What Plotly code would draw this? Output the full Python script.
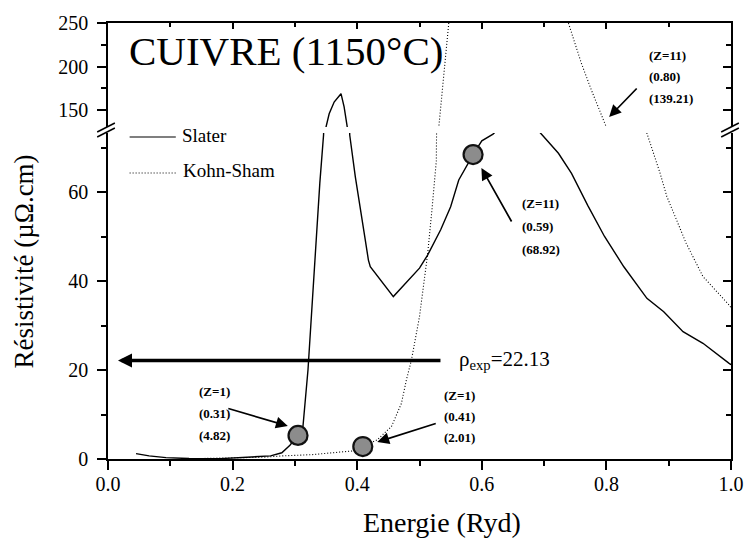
import plotly.graph_objects as go

# ---------------- data ----------------
slater_x = [0.045, 0.066, 0.093, 0.13, 0.18, 0.233, 0.261, 0.279, 0.292, 0.305, 0.313,
            0.321, 0.33, 0.34, 0.346, 0.35, 0.355, 0.363, 0.374, 0.379, 0.384, 0.388,
            0.397, 0.413, 0.418, 0.421, 0.458, 0.50, 0.513, 0.534, 0.55, 0.563, 0.586,
            0.60, 0.618, 0.64, 0.67, 0.697, 0.723, 0.744, 0.77, 0.797, 0.828, 0.865,
            0.892, 0.923, 0.955, 0.997, 1.0]
slater_y = [1.2, 0.7, 0.3, 0.1, 0.08, 0.4, 0.7, 1.4, 3.1, 5.3, 7.4,
            20, 40, 62, 72.8, 131, 146, 159.5, 169, 154, 131, 72.8,
            63.4, 49.2, 44.7, 43.2, 36.5, 42.9, 45.8, 51.5, 56.7, 62.7, 68.4,
            71.5, 73.0, 76, 77, 72.8, 68.7, 64.2, 57, 50.0, 43.2, 36.1,
            33.1, 28.6, 26.0, 21.5, 21.2]

ks_x = [0.145, 0.2, 0.25, 0.28, 0.33, 0.36, 0.392, 0.409, 0.432, 0.455, 0.471, 0.479,
        0.487, 0.50, 0.513, 0.52, 0.527, 0.531, 0.539, 0.547, 0.555, 0.735, 0.739,
        0.76, 0.776, 0.792, 0.80, 0.83, 0.865, 0.886, 0.897, 0.928, 0.955, 0.997, 1.0]
ks_y = [0.1, 0.2, 0.4, 0.7, 1.0, 1.4, 1.8, 2.8, 4.3, 7.3, 12.5, 17.8,
        22.2, 32, 46, 56, 67, 131, 190, 250, 300, 300, 250,
        203.5, 173, 144.3, 130.5, 100, 73.2, 64.3, 59, 48.5, 41, 34.6, 34]

# highlighted points (lower panel) and (upper panel)
pts_low_x = [0.305, 0.409, 0.586]
pts_low_y = [5.3, 2.8, 68.4]
pts_up_x = [0.793]
pts_up_y = [130.5]

labels_low = [["(Z=1)", "(0.31)", "(4.82)"],
              ["(Z=1)", "(0.41)", "(2.01)"],
              ["(Z=11)", "(0.59)", "(68.92)"]]
labels_up = [["(Z=11)", "(0.80)", "(139.21)"]]

rho_exp = 22.13
x_ticks = [0.0, 0.2, 0.4, 0.6, 0.8, 1.0]
y_low_ticks = [0, 20, 40, 60]
y_up_ticks = [150, 200, 250]

# ---------------- layout geometry (page pixels) ----------------
W, H = 756, 540
PX0, PY0 = 108, 459          # plot origin
PW, PH = 634, 436
L = PX0
T = PY0 - PH
R = W - L - PW
B = H - T - PH

def px(xp):
    return (xp - PX0) / PW

def py(yp):
    return (PY0 - yp) / PH

LOW_TOP = py(133)
UP_BOT = py(127)
LOW_RANGE = [0, (PY0 - 133) / 4.45]
UP_RANGE = [250 - (127 - 23) / 0.873, 250]

FONT = "'Liberation Serif', 'Times New Roman', 'DejaVu Serif', serif"

fig = go.Figure()

for xa, ya in (("x", "y"), ("x2", "y2")):
    fig.add_trace(go.Scatter(x=slater_x, y=slater_y, mode="lines", xaxis=xa, yaxis=ya,
                             line=dict(color="black", width=1.4), showlegend=False,
                             hoverinfo="skip"))
    fig.add_trace(go.Scatter(x=ks_x, y=ks_y, mode="lines", xaxis=xa, yaxis=ya,
                             line=dict(color="black", width=1.1, dash="1px,2px"),
                             showlegend=False, hoverinfo="skip"))

mk = dict(size=19, color="#8c8c8c", line=dict(color="#111111", width=2.2))
fig.add_trace(go.Scatter(x=pts_low_x, y=pts_low_y, mode="markers", marker=mk,
                         xaxis="x", yaxis="y", cliponaxis=False, showlegend=False))
fig.add_trace(go.Scatter(x=pts_up_x, y=pts_up_y, mode="markers", marker=mk,
                         xaxis="x2", yaxis="y2", cliponaxis=False, showlegend=False))
# dummy traces to materialise the mirrored (right-hand) axes
fig.add_trace(go.Scatter(x=[None], y=[None], xaxis="x", yaxis="y3", showlegend=False))
fig.add_trace(go.Scatter(x=[None], y=[None], xaxis="x2", yaxis="y4", showlegend=False))

tickfont = dict(family=FONT, size=20, color="black")
common = dict(showline=True, linecolor="black", linewidth=1.5, showgrid=False,
              zeroline=False, tickcolor="black", tickwidth=1.5, tickfont=tickfont)

fig.update_layout(
    width=W, height=H, margin=dict(l=L, r=R, t=T, b=B),
    paper_bgcolor="white", plot_bgcolor="white", showlegend=False,
    font=dict(family=FONT, color="black"),
    xaxis=dict(domain=[0, 1], range=[0, 1], anchor="y", side="bottom",
               ticks="outside", ticklen=9, tickvals=x_ticks, tickformat=".1f",
               ticklabelstandoff=-3,
               minor=dict(dtick=0.1, tick0=0, ticks="outside", ticklen=5,
                          tickcolor="black", tickwidth=1.5), **common),
    xaxis2=dict(domain=[0, 1], range=[0, 1], anchor="y2", side="top", matches="x",
                ticks="inside", ticklen=6, dtick=0.2, tick0=0, showticklabels=False,
                minor=dict(dtick=0.1, tick0=0, ticks="inside", ticklen=4,
                           tickcolor="black", tickwidth=1.5), **common),
    yaxis=dict(domain=[0, LOW_TOP], range=LOW_RANGE, anchor="x", side="left",
               ticks="outside", ticklen=9, tickvals=y_low_ticks, ticklabelstandoff=5,
               minor=dict(dtick=10, tick0=0, ticks="outside", ticklen=5,
                          tickcolor="black", tickwidth=1.5), **common),
    yaxis2=dict(domain=[UP_BOT, 1], range=UP_RANGE, anchor="x2", side="left",
                ticks="outside", ticklen=9, tickvals=y_up_ticks, ticklabelstandoff=5,
                minor=dict(dtick=25, tick0=0, ticks="outside", ticklen=5,
                           tickcolor="black", tickwidth=1.5), **common),
    yaxis3=dict(overlaying="y", range=LOW_RANGE, anchor="x", side="right",
                ticks="inside", ticklen=8, dtick=20, tick0=0, showticklabels=False,
                minor=dict(dtick=10, tick0=0, ticks="inside", ticklen=5,
                           tickcolor="black", tickwidth=1.5), **common),
    yaxis4=dict(overlaying="y2", range=UP_RANGE, anchor="x2", side="right",
                ticks="inside", ticklen=8, dtick=50, tick0=0, showticklabels=False,
                minor=dict(dtick=25, tick0=0, ticks="inside", ticklen=5,
                           tickcolor="black", tickwidth=1.5), **common),
)

ann = []
def text(xp, yp, s, size, xanchor="left", angle=0):
    ann.append(dict(x=px(xp), y=py(yp), xref="paper", yref="paper", text=s,
                    showarrow=False, xanchor=xanchor, yanchor="middle", textangle=angle,
                    font=dict(family=FONT, size=size, color="black")))

# titles
text(289, 51, "CUIVRE (1150°C)", 41, xanchor="center")
text(448, 522, "Energie (Ryd)", 28, xanchor="center")
text(23, 261, "Résistivité (µΩ.cm)", 27, xanchor="center", angle=-90)

# legend (manual)
text(181, 135, "Slater", 19)
text(182, 170, "Kohn-Sham", 19)
shapes = [
    dict(type="line", xref="paper", yref="paper", x0=px(130), x1=px(177), y0=py(137), y1=py(137),
         line=dict(color="black", width=1.2)),
    dict(type="line", xref="paper", yref="paper", x0=px(130), x1=px(178), y0=py(173), y1=py(173),
         line=dict(color="black", width=1.1, dash="1px,2px")),
]
# axis break marks
for (xa, xb) in ((97, 115), (732, 750)):
    for d in (0, 5):
        shapes.append(dict(type="line", xref="paper", yref="paper",
                           x0=px(xa), x1=px(xb), y0=py(132 + d), y1=py(123 + d),
                           line=dict(color="black", width=1.5)))
fig.update_layout(shapes=shapes)

# point labels
label_pos = [(199, 391, 22), (448, 395, 21), (527, 203, 23), (657, 55, 21.7)]
for (lx, ly, dy), lines in zip(label_pos, labels_low + labels_up):
    for i, s in enumerate(lines):
        text(lx, ly + i * dy, "<b>" + s + "</b>", 13)

# arrows: head (pixel), tail (pixel)
arrows = [((291, 426), (230, 408)), ((382, 442), (442, 423)),
          ((488, 168), (519, 223)), ((618, 117), (647, 87))]
for (hx, hy), (tx, ty) in arrows:
    ann.append(dict(x=px(hx), y=py(hy), xref="paper", yref="paper", ax=tx - hx, ay=ty - hy,
                    axref="pixel", ayref="pixel", text="", showarrow=True, arrowhead=2,
                    arrowsize=1.4, arrowwidth=1.7, arrowcolor="black", standoff=0))

# experimental resistivity arrow
ann.append(dict(x=0.016, y=rho_exp, xref="x", yref="y", ax=324, ay=0, text="",
                showarrow=True, arrowhead=2, arrowsize=0.8, arrowwidth=3.5,
                arrowcolor="black", standoff=0))
text(463, 360, "ρ<sub>exp</sub>=%.2f" % rho_exp, 21)

fig.update_layout(annotations=ann)
fig.write_html("out.html", config={"displayModeBar": False},
               post_script="document.body.style.margin='0';"
                           "document.body.style.overflow='hidden';")
